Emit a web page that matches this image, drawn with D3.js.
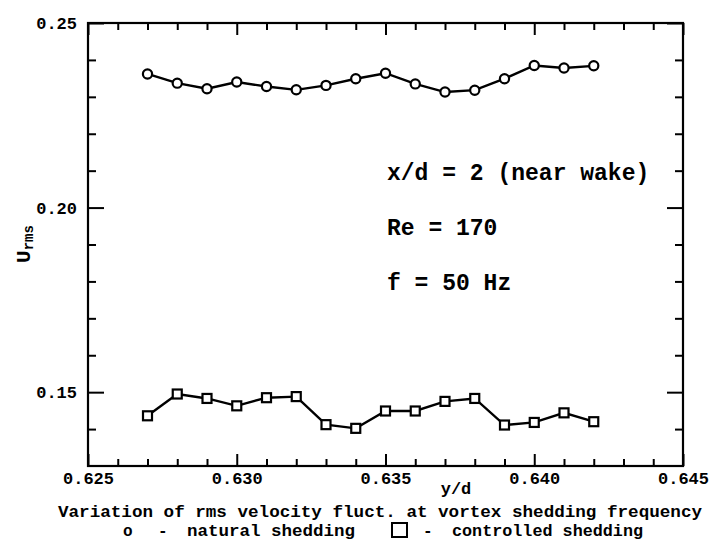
<!DOCTYPE html>
<html>
<head>
<meta charset="utf-8">
<title></title>
<script src="https://cdn.jsdelivr.net/npm/d3@7/dist/d3.min.js"></script>
<style>
body { margin: 0; background: #fff; }
text { font-family: "Liberation Mono", "DejaVu Sans Mono", monospace; font-weight: bold; fill: #000; }
</style>
</head>
<body>
<script>
// data
const yd = [0.627, 0.628, 0.629, 0.630, 0.631, 0.632, 0.633, 0.634,
            0.635, 0.636, 0.637, 0.638, 0.639, 0.640, 0.641, 0.642]
const natural = [0.2362, 0.2337, 0.2322, 0.2340, 0.2328, 0.2319, 0.2331, 0.2349,
                 0.2364, 0.2335, 0.2313, 0.2318, 0.2349, 0.2385, 0.2378, 0.2384]
const controlled = [0.1436, 0.1495, 0.1483, 0.1463, 0.1485, 0.1488, 0.1412, 0.1402,
                    0.1449, 0.1449, 0.1475, 0.1483, 0.1411, 0.1418, 0.1444, 0.1420]
const xMajor = [0.625, 0.630, 0.635, 0.640, 0.645]
const xMinor = [0.626, 0.627, 0.628, 0.629, 0.631, 0.632, 0.633, 0.634,
                0.636, 0.637, 0.638, 0.639, 0.641, 0.642, 0.643, 0.644]
const yMajor = [0.15, 0.20, 0.25]
const yMinor = [0.14, 0.16, 0.17, 0.18, 0.19, 0.21, 0.22, 0.23, 0.24]
const notes = ['x/d = 2 (near wake)', 'Re = 170', 'f = 50 Hz']

const width = 711
const height = 540
const margin = { top: 23, right: 28, bottom: 74, left: 88 }

const svg = d3.select('body').append('svg')
    .attr('width', width)
    .attr('height', height)

const x = d3.scaleLinear().domain([0.625, 0.645]).range([margin.left, width - margin.right])
const y = d3.scaleLinear().domain([0.13, 0.25]).range([height - margin.bottom, margin.top])

const x0 = x.range()[0], x1 = x.range()[1]
const y0 = y.range()[0], y1 = y.range()[1]

// axes: ticks point into the frame
function axis(gen, tx, ty, vals, size, fmt, pad) {
  const g = svg.append('g')
      .attr('transform', `translate(${tx},${ty})`)
      .call(gen.tickValues(vals).tickSize(-size).tickSizeOuter(0)
        .tickPadding(pad || 0)
        .tickFormat(fmt ? d3.format(fmt) : ''))
  g.select('.domain').remove()
  g.selectAll('.tick line').attr('stroke', '#000').attr('stroke-width', 2)
  g.selectAll('.tick text').style('font-size', '17px')
  return g
}

axis(d3.axisBottom(x), 0, y0, xMajor, 12, '.3f', 6)
axis(d3.axisBottom(x), 0, y0, xMinor, 7)
axis(d3.axisTop(x), 0, y1, xMajor, 12)
axis(d3.axisTop(x), 0, y1, xMinor, 7)
axis(d3.axisLeft(y), x0, 0, yMajor, 16, '.2f', 11)
axis(d3.axisLeft(y), x0, 0, yMinor, 8)
axis(d3.axisRight(y), x1, 0, yMajor, 16)
axis(d3.axisRight(y), x1, 0, yMinor, 8)

// frame
svg.append('rect')
    .attr('x', x0).attr('y', y1)
    .attr('width', x1 - x0).attr('height', y0 - y1)
    .attr('fill', 'none').attr('stroke', '#000').attr('stroke-width', 2.2)

const line = d3.line().x((d, i) => x(yd[i])).y(d => y(d))

// natural shedding - circles
svg.append('path').datum(natural)
    .attr('d', line).attr('fill', 'none').attr('stroke', '#000').attr('stroke-width', 2.4)
svg.selectAll('.nat').data(natural).enter().append('circle')
    .attr('cx', (d, i) => x(yd[i])).attr('cy', d => y(d)).attr('r', 4.6)
    .attr('fill', '#fff').attr('stroke', '#000').attr('stroke-width', 2.2)

// controlled shedding - squares
svg.append('path').datum(controlled)
    .attr('d', line).attr('fill', 'none').attr('stroke', '#000').attr('stroke-width', 2.4)
svg.selectAll('.ctl').data(controlled).enter().append('rect')
    .attr('x', (d, i) => x(yd[i]) - 4.5).attr('y', d => y(d) - 4.5)
    .attr('width', 9).attr('height', 9)
    .attr('fill', '#fff').attr('stroke', '#000').attr('stroke-width', 2.2)

// annotations
svg.selectAll('.note').data(notes).enter().append('text')
    .attr('x', 387).attr('y', (d, i) => 180 + i * 55)
    .style('font-size', '23px')
    .text(d => d)

// y label
const yl = svg.append('text')
    .attr('transform', 'translate(30,244) rotate(-90)')
    .attr('text-anchor', 'middle')
yl.append('tspan').style('font-size', '21px').text('U')
yl.append('tspan').style('font-size', '14px').attr('dy', 3).text('rms')

// x label
svg.append('text')
    .attr('x', 456).attr('y', 494)
    .attr('text-anchor', 'middle')
    .style('font-size', '17px')
    .text('y/d')

// caption
svg.append('text')
    .attr('x', 58).attr('y', 517)
    .attr('textLength', 644).attr('lengthAdjust', 'spacingAndGlyphs')
    .style('font-size', '16px')
    .text('Variation of rms velocity fluct. at vortex shedding frequency')

const cap2 = [
  { t: 'o', x: 123 }, { t: '-', x: 158 }, { t: 'natural shedding', x: 187, w: 168 },
  { t: '-', x: 423 }, { t: 'controlled shedding', x: 452, w: 191 }
]
svg.selectAll('.cap2').data(cap2).enter().append('text')
    .attr('x', d => d.x).attr('y', 536)
    .attr('textLength', d => d.w || null)
    .attr('lengthAdjust', 'spacingAndGlyphs')
    .style('font-size', '16px')
    .text(d => d.t)
svg.append('rect')
    .attr('x', 392).attr('y', 523).attr('width', 15).attr('height', 14)
    .attr('fill', 'none').attr('stroke', '#000').attr('stroke-width', 2)
</script>
</body>
</html>
